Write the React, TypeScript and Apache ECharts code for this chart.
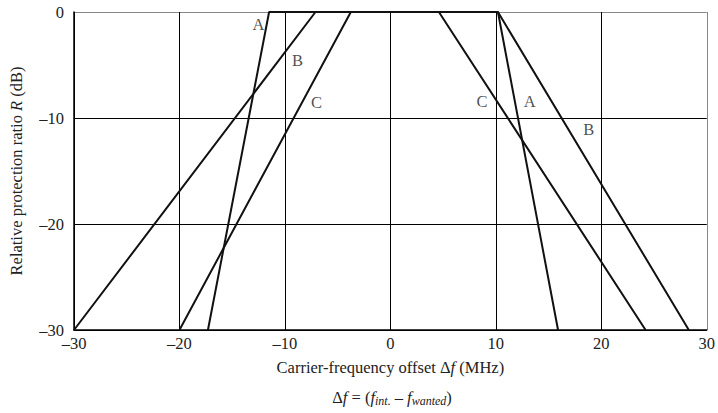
import React, { useEffect, useRef } from "react";
import * as echarts from "echarts";

const seriesA: [number, number][] = [[-17.3, -30], [-11.5, 0], [10.2, 0], [15.9, -30]];
const seriesB: [number, number][] = [[-30, -30], [-7.1, 0], [10.2, 0], [28.3, -30]];
const seriesC: [number, number][] = [[-20, -30], [-3.75, 0], [4.6, 0], [24.2, -30]];

const curveLabels: { name: string; x: number; y: number }[] = [
  { name: "A", x: -12.5, y: -1.2 },
  { name: "B", x: -8.8, y: -4.6 },
  { name: "C", x: -7.0, y: -8.55 },
  { name: "C", x: 8.7, y: -8.4 },
  { name: "A", x: 13.2, y: -8.4 },
  { name: "B", x: 18.8, y: -11.1 },
];

const FONT = "Liberation Serif";
const FS = 16.5;
const dash = (v: number) => String(v).replace("-", "\u2013");

export default function App() {
  const ref = useRef<HTMLDivElement>(null);
  useEffect(() => {
    if (!ref.current) return;
    const chart = echarts.init(ref.current, undefined, { renderer: "svg" });
    const lineSeries = (name: string, data: [number, number][]) => ({
      name,
      type: "line",
      data,
      symbol: "none",
      lineStyle: { color: "#111", width: 2 },
      z: 5,
    });
    const italic = { fontStyle: "italic", fontSize: FS, fontFamily: FONT, color: "#222" };
    chart.setOption({
      animation: false,
      backgroundColor: "#fff",
      textStyle: { fontFamily: FONT },
      grid: { left: 72, right: 9, top: 12, bottom: 83 },
      xAxis: {
        type: "value",
        min: -30,
        max: 30,
        interval: 10,
        axisLine: { show: true, onZero: false, lineStyle: { color: "#000", width: 1.5 } },
        axisTick: { show: false },
        axisLabel: { color: "#222", fontSize: FS, fontFamily: FONT, margin: 5, formatter: dash },
        splitLine: {
          show: true,
          lineStyle: { color: ["#000", "#000", "#000", "#000", "#000", "#000", "#888"], width: 1 },
        },
        name: "Carrier-frequency offset \u0394{i|f} (MHz)",
        nameLocation: "middle",
        nameGap: 29,
        nameTextStyle: {
          color: "#222",
          fontSize: FS,
          fontFamily: FONT,
          rich: { i: italic },
        },
      },
      yAxis: {
        type: "value",
        min: -30,
        max: 0,
        interval: 10,
        axisLine: { show: true, onZero: false, lineStyle: { color: "#000", width: 1.5 } },
        axisTick: { show: false },
        axisLabel: { color: "#222", fontSize: FS, fontFamily: FONT, margin: 10, formatter: dash },
        splitLine: {
          show: true,
          lineStyle: { color: ["#000", "#000", "#000", "#888"], width: 1 },
        },
        name: "Relative protection ratio {i|R} (dB)",
        nameLocation: "middle",
        nameGap: 49,
        nameTextStyle: {
          color: "#222",
          fontSize: FS,
          fontFamily: FONT,
          rich: { i: italic },
        },
      },
      graphic: [
        {
          type: "text",
          x: 392,
          y: 397,
          style: {
            text: "\u0394{i|f} = ({i|f}{s|int.} \u2013 {i|f}{s|wanted})",
            fill: "#222",
            font: `${FS}px ${FONT}`,
            align: "center",
            verticalAlign: "middle",
            rich: {
              i: { fontStyle: "italic", fontSize: FS, fontFamily: FONT, fill: "#222" },
              s: { fontStyle: "italic", fontSize: 12, fontFamily: FONT, fill: "#222", padding: [8, 0, 0, 0] },
            },
          },
        },
      ],
      series: [
        lineSeries("A", seriesA),
        lineSeries("B", seriesB),
        lineSeries("C", seriesC),
        {
          type: "scatter",
          symbolSize: 0,
          data: curveLabels.map((l) => ({ value: [l.x, l.y], name: l.name })),
          label: {
            show: true,
            position: "inside",
            formatter: (p: any) => p.name,
            color: "#222",
            fontSize: FS,
            fontFamily: FONT,
          },
          z: 6,
        },
      ],
    });
    return () => chart.dispose();
  }, []);
  return (
    <div
      ref={ref}
      style={{ position: "fixed", left: 0, top: 0, width: 718, height: 413, background: "#fff" }}
    />
  );
}
